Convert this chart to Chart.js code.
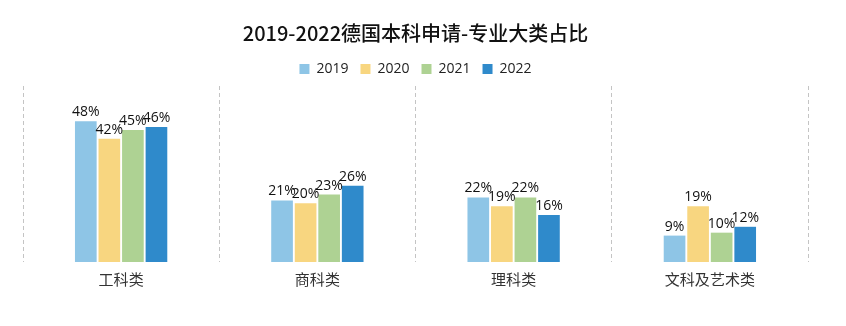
<!DOCTYPE html>
<html>
<head>
<meta charset="utf-8">
<script src="https://cdn.jsdelivr.net/npm/chart.js@4"></script>
<style>
  html, body { margin: 0; padding: 0; background: #fff; }
  #wrap { width: 846px; height: 326px; }
</style>
</head>
<body>
<div id="wrap"><canvas id="chart"></canvas></div>
<script>
const categories = ['工科类', '商科类', '理科类', '文科及艺术类'];
const years = ['2019', '2020', '2021', '2022'];
const v2019 = [48, 21, 22, 9];
const v2020 = [42, 20, 19, 19];
const v2021 = [45, 23, 22, 10];
const v2022 = [46, 26, 16, 12];
const colors = ['#8ec5e6', '#f8d680', '#aed293', '#2f8acb'];

const FONT = '"Open Sans", "Noto Sans CJK SC", sans-serif';
const TITLE_FONT = '"Noto Sans CJK SC", sans-serif';

// labels above each bar
const barLabels = {
    id: 'barLabels',
    afterDatasetsDraw(chart) {
        let ctx = chart.ctx;
        ctx.save();
        ctx.font = '14px ' + FONT;
        ctx.fillStyle = '#111';
        ctx.textAlign = 'center';
        ctx.textBaseline = 'bottom';
        chart.data.datasets.forEach((ds, i) => {
            chart.getDatasetMeta(i).data.forEach((bar, j) => {
                ctx.fillText(ds.data[j] + '%', bar.x, bar.y - 2);
            });
        });
        ctx.restore();
    }
};

let vals = [v2019, v2020, v2021, v2022];
let data = {
    labels: categories,
    datasets: years.map((y, i) => ({
        label: y,
        data: vals[i],
        backgroundColor: colors[i],
        categoryPercentage: 0.48,
        barPercentage: 0.92
    }))
};

new Chart(document.getElementById('chart'), {
    type: 'bar',
    data: data,
    plugins: [barLabels],
    options: {
        responsive: true,
        maintainAspectRatio: false,
        animation: false,
        layout: { padding: { left: 23, right: 38, top: 5, bottom: 26 } },
        plugins: {
            title: {
                display: true,
                text: '2019-2022德国本科申请-专业大类占比',
                color: '#111',
                font: { family: TITLE_FONT, size: 20, weight: '500' },
                padding: { top: 16, bottom: 5 }
            },
            legend: {
                display: true,
                labels: {
                    boxWidth: 10,
                    boxHeight: 10,
                    color: '#222',
                    font: { family: FONT, size: 14 },
                    padding: 12
                }
            },
            tooltip: { enabled: false }
        },
        scales: {
            x: {
                grid: {
                    display: true,
                    offset: true,
                    drawTicks: false,
                    color: '#c4c4c4',
                    lineWidth: 1
                },
                border: { display: false, dash: [4, 3] },
                ticks: {
                    color: '#333',
                    font: { family: FONT, size: 15 },
                    padding: 10
                }
            },
            y: {
                display: false,
                min: 0,
                max: 60
            }
        }
    }
});
</script>
</body>
</html>
